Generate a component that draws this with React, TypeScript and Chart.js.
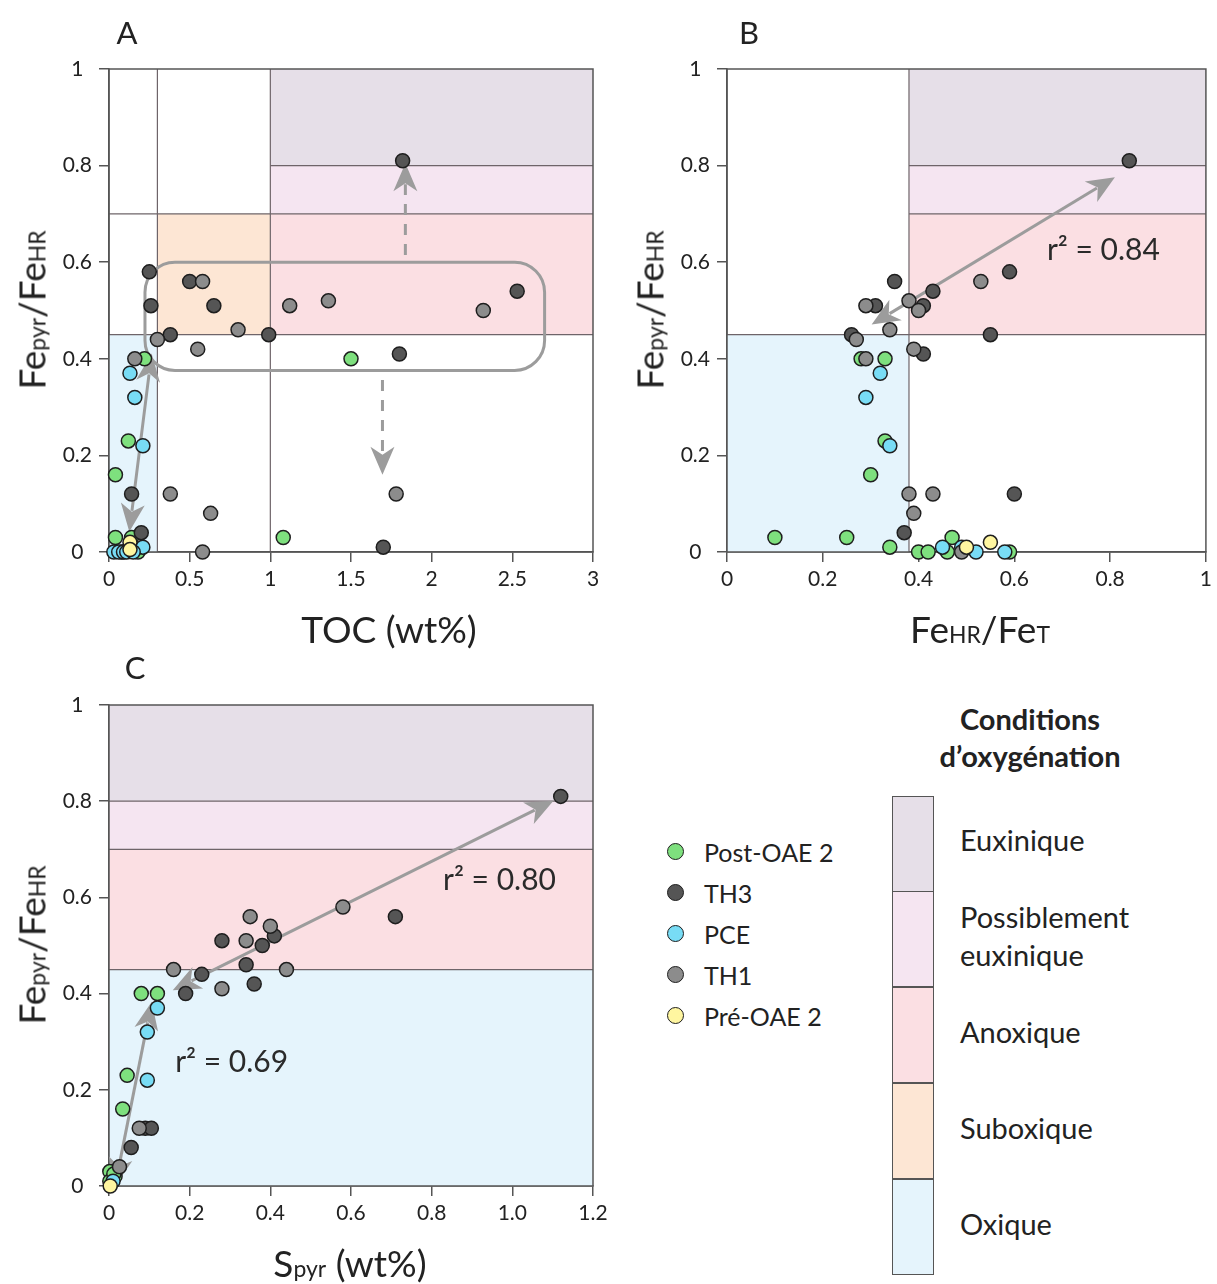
import React, { useEffect, useRef } from "react";
import { Chart, registerables } from "chart.js";
Chart.register(...registerables);

const FONT = "Lato, 'Open Sans', 'DejaVu Sans', sans-serif";
const TEXT = "#222222";
const AXIS = "#555555";

// groups (legend order)
const GROUPS = ["Post-OAE 2", "TH3", "PCE", "TH1", "Pré-OAE 2"];
const GROUP_COLORS = ["#7EE07E", "#555555", "#78DCF5", "#8C8C8C", "#FFF6A0"];

// oxygenation conditions
const CONDITIONS = ["Euxinique", "Possiblement\neuxinique", "Anoxique", "Suboxique", "Oxique"];
const COND_COLORS = ["#E6DFE8", "#F5E5F1", "#FBDFE3", "#FDE6D4", "#E5F4FC"];

// ---------- Panel A : TOC (wt%) vs Fepyr/FeHR ----------
const A_POST = [[0.22, 0.4], [1.5, 0.4], [0.12, 0.23], [0.04, 0.16], [0.04, 0.03], [0.14, 0.03], [1.08, 0.03], [0.08, 0.0], [0.18, 0.0], [0.12, 0.005]];
const A_TH3 = [[0.25, 0.58], [0.5, 0.56], [0.26, 0.51], [0.65, 0.51], [0.38, 0.45], [0.99, 0.45], [1.82, 0.81], [2.53, 0.54], [1.8, 0.41], [0.14, 0.12], [0.2, 0.04], [1.7, 0.01]];
const A_PCE = [[0.13, 0.37], [0.16, 0.32], [0.21, 0.22], [0.21, 0.01], [0.03, 0.0], [0.06, 0.0], [0.09, 0.0], [0.11, 0.0], [0.15, 0.0]];
const A_TH1 = [[0.58, 0.56], [1.12, 0.51], [1.36, 0.52], [2.32, 0.5], [0.3, 0.44], [0.8, 0.46], [0.55, 0.42], [0.16, 0.4], [0.38, 0.12], [0.63, 0.08], [0.58, 0.0], [1.78, 0.12]];
const A_PRE = [[0.13, 0.02], [0.13, 0.005]];
const A_X_RANGE = [0, 3, 0.5];
const A_REGIONS = [[1, 3, 0.8, 1, 0], [1, 3, 0.7, 0.8, 1], [1, 3, 0.45, 0.7, 2], [0.3, 1, 0.45, 0.7, 3], [0, 0.3, 0, 0.45, 4]];
const A_HLINES = [[0.45, 0, 3], [0.7, 0, 3], [0.8, 1, 3]];
const A_VLINES = [[0.3, 0, 1], [1, 0, 1]];
const A_GROUP_BOX = [0.223, 2.7, 0.376, 0.6];
const A_ARROWS = [
  { from: [0.264, 0.411], to: [0.126, 0.042], both: true, dashed: false },
  { from: [1.837, 0.615], to: [1.837, 0.805], both: false, dashed: true },
  { from: [1.695, 0.356], to: [1.695, 0.16], both: false, dashed: true },
];

// ---------- Panel B : FeHR/FeT vs Fepyr/FeHR ----------
const B_POST = [[0.28, 0.4], [0.33, 0.4], [0.33, 0.23], [0.3, 0.16], [0.1, 0.03], [0.25, 0.03], [0.34, 0.01], [0.4, 0.0], [0.42, 0.0], [0.47, 0.03], [0.46, 0.0], [0.59, 0.0]];
const B_TH3 = [[0.35, 0.56], [0.31, 0.51], [0.43, 0.54], [0.41, 0.51], [0.59, 0.58], [0.55, 0.45], [0.26, 0.45], [0.41, 0.41], [0.84, 0.81], [0.6, 0.12], [0.37, 0.04]];
const B_PCE = [[0.32, 0.37], [0.29, 0.32], [0.34, 0.22], [0.45, 0.01], [0.49, 0.01], [0.52, 0.0], [0.58, 0.0]];
const B_TH1 = [[0.29, 0.51], [0.38, 0.52], [0.4, 0.5], [0.53, 0.56], [0.34, 0.46], [0.27, 0.44], [0.39, 0.42], [0.29, 0.4], [0.38, 0.12], [0.43, 0.12], [0.39, 0.08], [0.49, 0.0]];
const B_PRE = [[0.5, 0.01], [0.55, 0.02]];
const B_X_RANGE = [0, 1, 0.2];
const B_REGIONS = [[0.38, 1, 0.8, 1, 0], [0.38, 1, 0.7, 0.8, 1], [0.38, 1, 0.45, 0.7, 2], [0, 0.38, 0, 0.45, 4]];
const B_HLINES = [[0.45, 0, 1], [0.7, 0.38, 1], [0.8, 0.38, 1]];
const B_VLINES = [[0.38, 0, 1]];
const B_ARROWS = [{ from: [0.302, 0.471], to: [0.81, 0.776], both: true, dashed: false }];
const B_R2 = [["r² = 0.84", 0.668, 0.625]];

// ---------- Panel C : Spyr (wt%) vs Fepyr/FeHR ----------
const C_POST = [[0.08, 0.4], [0.12, 0.4], [0.045, 0.23], [0.034, 0.16], [0.002, 0.03], [0.015, 0.02], [0.002, 0.01], [0.012, 0.025]];
const C_TH3 = [[1.12, 0.81], [0.71, 0.56], [0.41, 0.52], [0.28, 0.51], [0.38, 0.5], [0.34, 0.46], [0.23, 0.44], [0.36, 0.42], [0.19, 0.4], [0.09, 0.12], [0.105, 0.12], [0.055, 0.08]];
const C_PCE = [[0.12, 0.37], [0.095, 0.32], [0.095, 0.22], [0.01, 0.01]];
const C_TH1 = [[0.58, 0.58], [0.35, 0.56], [0.4, 0.54], [0.34, 0.51], [0.16, 0.45], [0.44, 0.45], [0.28, 0.41], [0.075, 0.12], [0.026, 0.04]];
const C_PRE = [[0.003, 0.0]];
const C_X_RANGE = [0, 1.2, 0.2];
const C_REGIONS = [[0, 1.2, 0.8, 1, 0], [0, 1.2, 0.7, 0.8, 1], [0, 1.2, 0.45, 0.7, 2], [0, 1.2, 0, 0.45, 4]];
const C_HLINES = [[0.45, 0, 1.2], [0.7, 0, 1.2], [0.8, 0, 1.2]];
const C_ARROWS = [
  { from: [0.158, 0.407], to: [1.102, 0.801], both: true, dashed: false },
  { from: [0.015, 0.0], to: [0.106, 0.383], both: true, dashed: false },
];
const C_R2 = [["r² = 0.80", 0.828, 0.636], ["r² = 0.69", 0.164, 0.258]];

const Y_RANGE = [0, 1, 0.2];

function drawHead(ctx: CanvasRenderingContext2D, tx: number, ty: number, ux: number, uy: number) {
  const L = 28, W = 12, N = 8;
  const px = -uy, py = ux;
  ctx.beginPath();
  ctx.moveTo(tx, ty);
  ctx.lineTo(tx - L * ux + W * px, ty - L * uy + W * py);
  ctx.lineTo(tx - (L - N) * ux, ty - (L - N) * uy);
  ctx.lineTo(tx - L * ux - W * px, ty - L * uy - W * py);
  ctx.closePath();
  ctx.fill();
}

const figurePlugin = {
  id: "figure",
  beforeDatasetsDraw(chart: any, _a: any, o: any) {
    const { ctx, chartArea: ca } = chart;
    const xs = chart.scales.x, ys = chart.scales.y;
    const X = (v: number) => xs.getPixelForValue(v);
    const Y = (v: number) => ys.getPixelForValue(v);
    ctx.save();
    for (const [x0, x1, y0, y1, c] of o.regions) {
      ctx.fillStyle = COND_COLORS[c];
      ctx.fillRect(X(x0), Y(y1), X(x1) - X(x0), Y(y0) - Y(y1));
    }
    ctx.strokeStyle = "#6E6469";
    ctx.lineWidth = 1.2;
    for (const [yv, x0, x1] of o.hlines || []) {
      ctx.beginPath(); ctx.moveTo(X(x0), Y(yv)); ctx.lineTo(X(x1), Y(yv)); ctx.stroke();
    }
    for (const [xv, y0, y1] of o.vlines || []) {
      ctx.beginPath(); ctx.moveTo(X(xv), Y(y0)); ctx.lineTo(X(xv), Y(y1)); ctx.stroke();
    }
    ctx.strokeStyle = AXIS;
    ctx.lineWidth = 1.5;
    ctx.strokeRect(ca.left, ca.top, ca.right - ca.left, ca.bottom - ca.top);

    if (o.box) {
      const [x0, x1, y0, y1] = o.box;
      const l = X(x0), r = X(x1), t = Y(y1), b = Y(y0);
      ctx.strokeStyle = "#9C9C9C";
      ctx.lineWidth = 3;
      ctx.beginPath();
      ctx.roundRect(l, t, r - l, b - t, 30);
      ctx.stroke();
    }
    ctx.strokeStyle = "#9C9C9C";
    ctx.fillStyle = "#9C9C9C";
    ctx.lineWidth = 3;
    for (const a of o.arrows || []) {
      const x0 = X(a.from[0]), y0 = Y(a.from[1]), x1 = X(a.to[0]), y1 = Y(a.to[1]);
      const len = Math.hypot(x1 - x0, y1 - y0);
      const ux = (x1 - x0) / len, uy = (y1 - y0) / len;
      const cut = 21;
      const sx = a.both ? x0 + ux * cut : x0, sy = a.both ? y0 + uy * cut : y0;
      ctx.setLineDash(a.dashed ? [11, 9] : []);
      ctx.beginPath();
      ctx.moveTo(sx, sy);
      ctx.lineTo(x1 - ux * cut, y1 - uy * cut);
      ctx.stroke();
      ctx.setLineDash([]);
      drawHead(ctx, x1, y1, ux, uy);
      if (a.both) drawHead(ctx, x0, y0, -ux, -uy);
    }
    ctx.fillStyle = "#2A2A2A";
    ctx.font = `30px ${FONT}`;
    ctx.textAlign = "left";
    ctx.textBaseline = "middle";
    for (const [txt, xv, yv] of o.texts || []) ctx.fillText(txt, X(xv), Y(yv));
    ctx.restore();
  },
};

const fmtX = (v: number) => (Math.abs(v) < 1e-9 ? "0" : String(+v.toFixed(1)));
const fmtC = (v: number) => (Math.abs(v) < 1e-9 ? "0" : Number(v).toFixed(1));

type PanelCfg = {
  left: number; top: number; width: number; height: number;
  pad: { top: number; right: number };
  yw: number; xh: number;
  series: number[][][];
  xr: number[]; xfmt: (v: number) => string;
  fig: any;
};

function Panel({ cfg }: { cfg: PanelCfg }) {
  const ref = useRef<HTMLCanvasElement>(null);
  useEffect(() => {
    const tickFont = { family: FONT, size: 21 };
    const chart = new Chart(ref.current!, {
      type: "scatter",
      data: {
        datasets: cfg.series.map((pts, i) => ({
          label: GROUPS[i],
          data: pts.map(([x, y]) => ({ x, y })),
          backgroundColor: GROUP_COLORS[i],
          borderColor: "#1E1E1E",
          borderWidth: 1.5,
          pointRadius: 7,
          order: 4 - i,
        })),
      },
      options: {
        responsive: false,
        animation: false,
        clip: false as any,
        layout: { padding: { top: cfg.pad.top, right: cfg.pad.right, left: 0, bottom: 0 } },
        plugins: { legend: { display: false }, tooltip: { enabled: false }, figure: cfg.fig } as any,
        scales: {
          x: {
            type: "linear",
            min: cfg.xr[0], max: cfg.xr[1],
            ticks: { stepSize: cfg.xr[2], color: TEXT, font: tickFont, padding: 5, maxRotation: 0, callback: (v: any) => cfg.xfmt(Number(v)) },
            grid: { display: true, drawOnChartArea: false, tickLength: 10, color: AXIS, lineWidth: 1.5 },
            border: { display: true, color: AXIS, width: 1.5 },
            afterFit: (s: any) => { s.height = cfg.xh; },
          },
          y: {
            type: "linear",
            min: Y_RANGE[0], max: Y_RANGE[1],
            ticks: { stepSize: Y_RANGE[2], color: TEXT, font: tickFont, padding: 7, crossAlign: "center", callback: (v: any) => fmtX(Number(v)) },
            grid: { display: true, drawOnChartArea: false, tickLength: 10, color: AXIS, lineWidth: 1.5 },
            border: { display: true, color: AXIS, width: 1.5 },
            afterFit: (s: any) => { s.width = cfg.yw; },
          },
        },
      } as any,
      plugins: [figurePlugin as any],
    });
    return () => chart.destroy();
  }, []);
  return (
    <canvas
      ref={ref}
      width={cfg.width}
      height={cfg.height}
      style={{ position: "absolute", left: cfg.left, top: cfg.top, width: cfg.width, height: cfg.height }}
    />
  );
}

const PANELS: PanelCfg[] = [
  {
    left: 0, top: 0, width: 620, height: 610, pad: { top: 69, right: 27 }, yw: 109, xh: 58,
    series: [A_POST, A_TH3, A_PCE, A_TH1, A_PRE], xr: A_X_RANGE, xfmt: fmtX,
    fig: { regions: A_REGIONS, hlines: A_HLINES, vlines: A_VLINES, box: A_GROUP_BOX, arrows: A_ARROWS, texts: [] },
  },
  {
    left: 620, top: 0, width: 597, height: 610, pad: { top: 69, right: 6 }, yw: 107, xh: 58,
    series: [B_POST, B_TH3, B_PCE, B_TH1, B_PRE], xr: B_X_RANGE, xfmt: fmtX,
    fig: { regions: B_REGIONS, hlines: B_HLINES, vlines: B_VLINES, arrows: B_ARROWS, texts: B_R2 },
  },
  {
    left: 0, top: 640, width: 620, height: 600, pad: { top: 65, right: 27 }, yw: 109, xh: 54,
    series: [C_POST, C_TH3, C_PCE, C_TH1, C_PRE], xr: C_X_RANGE, xfmt: fmtC,
    fig: { regions: C_REGIONS, hlines: C_HLINES, vlines: [], arrows: C_ARROWS, texts: C_R2 },
  },
];

const abs = (x: number, y: number, extra: any = {}): React.CSSProperties => ({
  position: "absolute", left: x, top: y, transform: "translate(-50%, -50%)", whiteSpace: "nowrap",
  fontFamily: FONT, color: TEXT, lineHeight: 1, ...extra,
});
const small: React.CSSProperties = { fontSize: "0.62em" };

function YTitle({ x, y }: { x: number; y: number }) {
  return (
    <div style={abs(x, y, { fontSize: 37, transform: "translate(-50%, -50%) rotate(-90deg)" })}>
      Fe<span style={small}>pyr</span>/Fe<span style={small}>HR</span>
    </div>
  );
}

export default function App() {
  return (
    <div style={{ position: "absolute", left: 0, top: 0, width: 1217, height: 1284, background: "#fff", overflow: "hidden" }}>
      {PANELS.map((p, i) => <Panel key={i} cfg={p} />)}
      <div style={abs(127, 32, { fontSize: 31 })}>A</div>
      <div style={abs(749, 32, { fontSize: 31 })}>B</div>
      <div style={abs(135, 667, { fontSize: 31 })}>C</div>
      <div style={abs(389, 628, { fontSize: 37 })}>TOC (wt%)</div>
      <div style={abs(980, 628, { fontSize: 37 })}>Fe<span style={small}>HR</span>/Fe<span style={small}>T</span></div>
      <div style={abs(350, 1262, { fontSize: 37 })}>S<span style={small}>pyr</span> (wt%)</div>
      <YTitle x={31} y={310} />
      <YTitle x={649} y={310} />
      <YTitle x={31} y={945} />

      {GROUPS.map((g, i) => (
        <React.Fragment key={g}>
          <div style={{ position: "absolute", left: 667, top: 843 + 41 * i, width: 17, height: 17, borderRadius: "50%", background: GROUP_COLORS[i], border: "1.5px solid #1E1E1E", boxSizing: "border-box", transform: "translate(0, 0)" }} />
          <div style={{ position: "absolute", left: 704, top: 852 + 41 * i, transform: "translateY(-50%)", fontFamily: FONT, fontSize: 25, color: TEXT, whiteSpace: "nowrap", lineHeight: 1 }}>{g}</div>
        </React.Fragment>
      ))}

      <div style={abs(1030, 718, { fontSize: 29, fontWeight: 700 })}>Conditions</div>
      <div style={abs(1030, 755, { fontSize: 29, fontWeight: 700 })}>d’oxygénation</div>
      {CONDITIONS.map((c, i) => (
        <React.Fragment key={c}>
          <div style={{ position: "absolute", left: 892, top: 796 + 96 * i, width: 42, height: 96, background: COND_COLORS[i], border: `1.5px solid ${AXIS}`, boxSizing: "border-box", marginTop: i === 0 ? 0 : -0.75 }} />
          <div style={{ position: "absolute", left: 960, top: 840 + 96 * i, transform: "translateY(-50%)", fontFamily: FONT, fontSize: 29, color: TEXT, whiteSpace: "pre", lineHeight: 1.3 }}>{c}</div>
        </React.Fragment>
      ))}
    </div>
  );
}
